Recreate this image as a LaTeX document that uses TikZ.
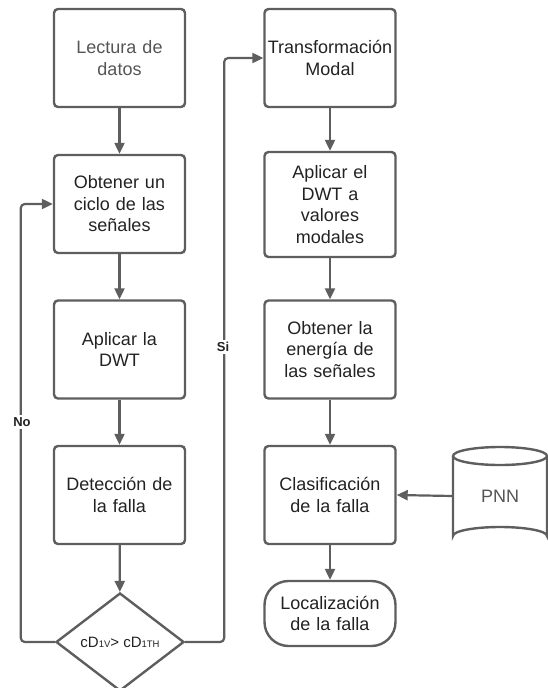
\documentclass[tikz,border=0pt]{standalone}
\usepackage{fontspec}
\setmainfont{Liberation Sans}
\usetikzlibrary{arrows.meta,shapes.geometric}
\definecolor{lc}{HTML}{5E5E5E}
\definecolor{tc}{HTML}{222222}
\definecolor{tl}{HTML}{555555}
\begin{document}
\begin{tikzpicture}[x=1pt,y=-1pt,
  box/.style={draw=lc, line width=2.4pt, rounded corners=4pt, minimum width=131pt, minimum height=98pt,
    align=center, text=tc, font=\fontsize{18}{21.5}\selectfont, inner sep=0pt, text width=129pt},
  term/.style={box, rounded corners=24pt, minimum height=65pt},
  dec/.style={draw=lc, line width=2.4pt, diamond, minimum width=128pt, minimum height=98pt, inner sep=0pt,
    text=tc, font=\fontsize{15}{18}\selectfont},
  arr/.style={draw=lc, line width=2.2pt, -{Triangle[length=11pt,width=10pt]}},
  lbl/.style={fill=white, text=tc, font=\bfseries\fontsize{13}{15}\selectfont, inner sep=2pt}]
\useasboundingbox (0,0) rectangle (548,688);
% left column
\node[box, text=tl] (l1) at (119.5,58) {Lectura de\\datos};
\node[box] (l2) at (119.5,204) {Obtener un\\ciclo de las\\señales};
\node[box] (l3) at (119.5,349.5) {Aplicar la\\DWT};
\node[box] (l4) at (119.5,495) {Detección de\\la falla};
\node[dec] (d) at (120,642) {cD{\fontsize{9.5}{10}\selectfont 1V}> cD{\fontsize{9.5}{10}\selectfont 1TH}};
% right column
\node[box] (r1) at (330,58) {Transformación\\Modal};
\node[box, minimum height=105pt] (r2) at (330,204.5) {Aplicar el\\DWT a\\valores\\modales};
\node[box] (r3) at (330,349.5) {Obtener la\\energía de\\las señales};
\node[box] (r4) at (330,495) {Clasificación\\de la falla};
\node[term] (r5) at (330,613.5) {Localización\\de la falla};
% PNN cylinder
\node[minimum width=94pt, minimum height=98pt, inner sep=0pt, text=tl, font=\fontsize{18}{21.5}\selectfont] (pnn) at (500,496) {PNN};
\draw[lc, line width=2.4pt] (500,456) ellipse [x radius=47, y radius=9];
\draw[lc, line width=2.4pt] (453,456) -- (453,536) arc[start angle=180, end angle=360, x radius=47, y radius=9] -- (547,456);
% connectors
\draw[arr] (l1) -- (l2);
\draw[arr] (l2) -- (l3);
\draw[arr] (l3) -- (l4);
\draw[arr] (l4) -- (d);
\draw[arr] (r1) -- (r2);
\draw[arr] (r2) -- (r3);
\draw[arr] (r3) -- (r4);
\draw[arr] (r4) -- (r5);
\draw[arr] (pnn.west) -- (r4.east);
\draw[arr, rounded corners=4pt] (d.west) -- ++(-34,0) |- (l2.west);
\draw[arr, rounded corners=4pt] (d.east) -- ++(39,0) |- (r1.west);
\node[lbl] (no) at (22,422) {No};
\node[lbl] (si) at (223,347) {Si};
\end{tikzpicture}
\end{document}
